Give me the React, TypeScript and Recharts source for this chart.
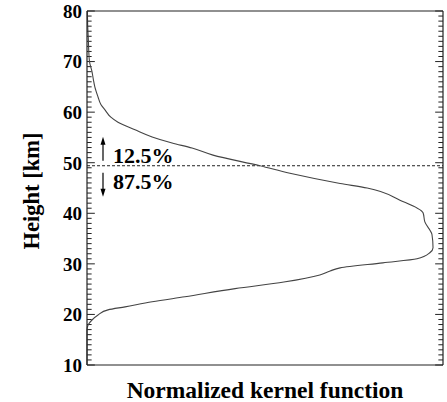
import React from 'react';
import { LineChart, Line, XAxis, YAxis, ReferenceLine } from 'recharts';

// height [km] and normalized kernel value
const heights = [80, 77, 74, 72, 70, 68, 66.4, 65, 63, 61.5, 60.4, 59, 58, 56.5, 55.1, 53.9, 52.9, 51.5, 49.4, 47.9, 45.9, 45, 42.6, 40.1, 38.3, 35.8, 33.2, 32.2, 31, 30.2, 29.2, 28.6, 27.8, 26.4, 25.1, 23.5, 22.5, 21.5, 20.9, 19.9, 18.9, 17.9, 16.9, 10];
const kernel = [0.001, 0.002, 0.004, 0.005, 0.007, 0.014, 0.018, 0.022, 0.031, 0.039, 0.051, 0.067, 0.087, 0.135, 0.183, 0.239, 0.295, 0.354, 0.486, 0.57, 0.711, 0.787, 0.879, 0.944, 0.949, 0.969, 0.972, 0.963, 0.927, 0.831, 0.711, 0.683, 0.654, 0.553, 0.416, 0.275, 0.183, 0.107, 0.059, 0.031, 0.014, 0.003, 0, 0];

const heightTicks = Array.from({ length: 71 }, (_, i) => 10 + i);
const majorTicks = [10, 20, 30, 40, 50, 60, 70, 80];
const splitHeight = 49.4;
const upperShare = '12.5%';
const lowerShare = '87.5%';

const data = heights.map((h, i) => ({ h, k: kernel[i] }));

const FONT = '"Liberation Serif", "Times New Roman", serif';
const FRAME = '#222';
// inward tick length in x-data units (plot is 0..1 wide)
const MAJOR_LEN = 0.022;
const MINOR_LEN = 0.013;

const LeftTick = (props: any) => {
  const x = Number(props.x);
  const y = Number(props.y);
  if (!majorTicks.includes(props.payload.value)) return <g />;
  return (
    <text x={x - 5} y={y} dy="0.36em" textAnchor="end" fontFamily={FONT} fontWeight="bold" fontSize={19} fill="#000">
      {props.payload.value}
    </text>
  );
};

const SplitLabel = (props: any) => {
  const { viewBox } = props;
  const x0 = viewBox.x + 16;
  const y0 = viewBox.y;
  return (
    <g>
      <line x1={x0} x2={x0} y1={y0 - 5} y2={y0 - 22} stroke="#000" strokeWidth={1.2} />
      <polygon points={`${x0 - 2.5},${y0 - 21} ${x0 + 2.5},${y0 - 21} ${x0},${y0 - 29}`} fill="#000" />
      <line x1={x0} x2={x0} y1={y0 + 7} y2={y0 + 24} stroke="#000" strokeWidth={1.2} />
      <polygon points={`${x0 - 2.5},${y0 + 23} ${x0 + 2.5},${y0 + 23} ${x0},${y0 + 31}`} fill="#000" />
      <text x={x0 + 10} y={y0 - 3} fontFamily={FONT} fontWeight="bold" fontSize={22} fill="#000">
        {upperShare}
      </text>
      <text x={x0 + 10} y={y0 + 23} fontFamily={FONT} fontWeight="bold" fontSize={22} fill="#000">
        {lowerShare}
      </text>
    </g>
  );
};

const YTitle = (props: any) => {
  const { viewBox } = props;
  const cx = 31;
  const cy = viewBox.y + viewBox.height / 2 + 3;
  return (
    <text x={cx} y={cy} transform={`rotate(-90 ${cx} ${cy})`} textAnchor="middle" dy="0.35em" fontFamily={FONT} fontWeight="bold" fontSize={22.5} fill="#000">
      Height [km]
    </text>
  );
};

const XTitle = (props: any) => {
  const { viewBox } = props;
  return (
    <text x={viewBox.x + viewBox.width / 2} y={398} textAnchor="middle" fontFamily={FONT} fontWeight="bold" fontSize={23.5} fill="#000">
      Normalized kernel function
    </text>
  );
};

export default function App() {
  return (
    <div style={{ position: 'absolute', left: 0, top: 0, background: '#fff' }}>
      <LineChart
        width={447}
        height={402}
        data={data}
        layout="vertical"
        margin={{ top: 10, right: 3, bottom: 0, left: 0 }}
      >
        <XAxis
          type="number"
          dataKey="k"
          domain={[0, 1]}
          tick={false}
          tickLine={false}
          axisLine={{ stroke: FRAME, strokeWidth: 1.2 }}
          height={37}
          label={<XTitle />}
        />
        <XAxis
          xAxisId="top"
          orientation="top"
          type="number"
          dataKey="k"
          domain={[0, 1]}
          tick={false}
          tickLine={false}
          axisLine={{ stroke: FRAME, strokeWidth: 1.2 }}
          height={1}
        />
        <YAxis
          type="number"
          dataKey="h"
          domain={[10, 80]}
          reversed
          ticks={heightTicks}
          interval={0}
          tickSize={0}
          tickMargin={0}
          tickLine={false}
          tick={LeftTick}
          axisLine={{ stroke: FRAME, strokeWidth: 1.2 }}
          width={87}
          label={<YTitle />}
        />
        <YAxis
          yAxisId="right"
          orientation="right"
          type="number"
          dataKey="h"
          domain={[10, 80]}
          reversed
          tick={false}
          tickLine={false}
          axisLine={{ stroke: FRAME, strokeWidth: 1.2 }}
          width={1}
        />
        {heightTicks.map((h) => {
          const len = majorTicks.includes(h) ? MAJOR_LEN : MINOR_LEN;
          return (
            <ReferenceLine
              key={`l${h}`}
              segment={[{ x: 0, y: h }, { x: len, y: h }]}
              stroke={FRAME}
              strokeWidth={1}
            />
          );
        })}
        {heightTicks.map((h) => {
          const len = majorTicks.includes(h) ? MAJOR_LEN : MINOR_LEN;
          return (
            <ReferenceLine
              key={`r${h}`}
              segment={[{ x: 1 - len, y: h }, { x: 1, y: h }]}
              stroke={FRAME}
              strokeWidth={1}
            />
          );
        })}
        <ReferenceLine
          y={splitHeight}
          stroke="#222"
          strokeWidth={1}
          strokeDasharray="3 2"
          label={<SplitLabel />}
        />
        <Line
          type="monotoneY"
          dataKey="k"
          stroke="#444"
          strokeWidth={1.1}
          dot={false}
          isAnimationActive={false}
        />
      </LineChart>
    </div>
  );
}
